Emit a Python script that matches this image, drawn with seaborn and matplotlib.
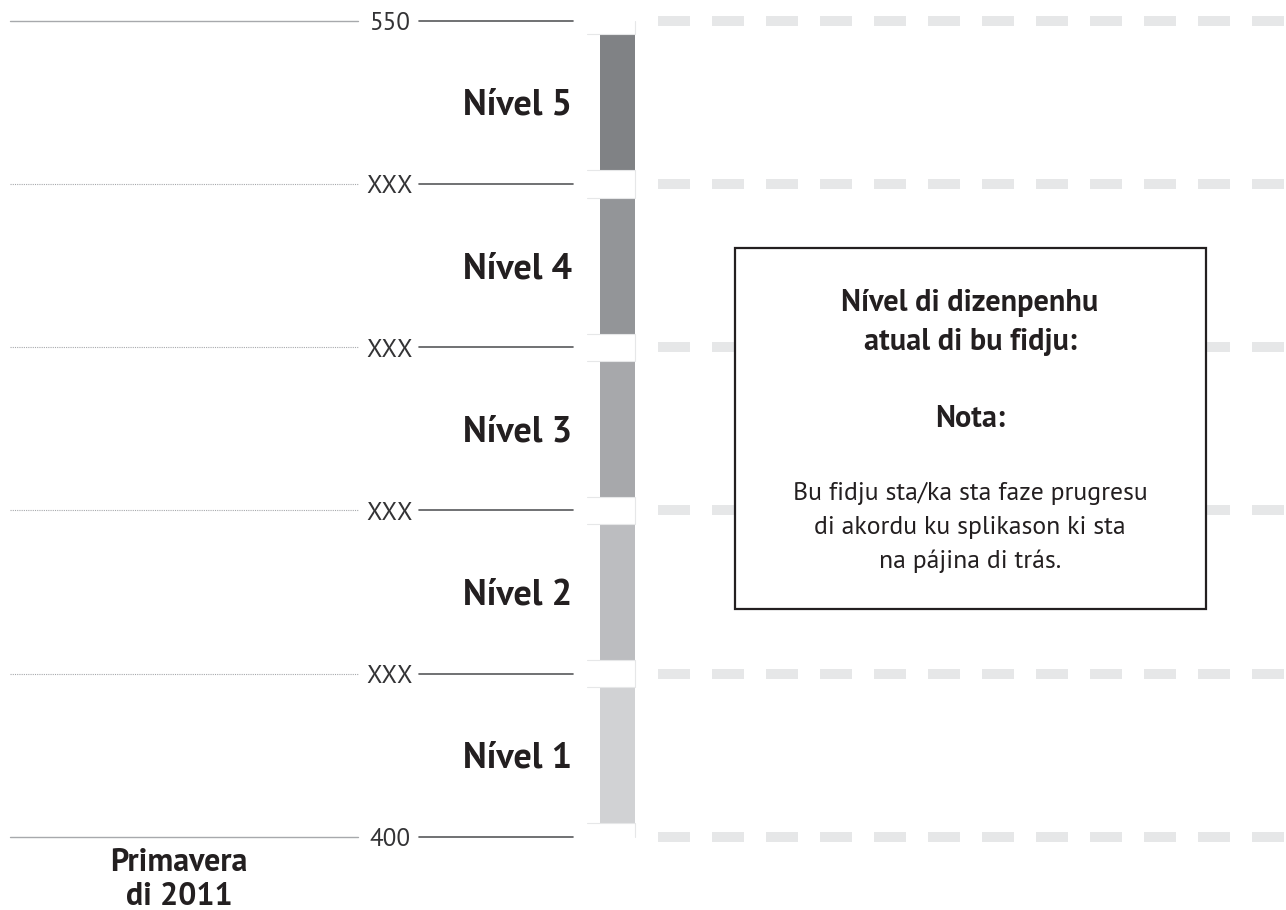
import matplotlib
matplotlib.use("Agg")
import matplotlib.pyplot as plt
import matplotlib.transforms as mtransforms
from matplotlib.patches import Rectangle
import seaborn as sns

# ---------------- data ----------------
levels = ["Nível 1", "Nível 2", "Nível 3", "Nível 4", "Nível 5"]
cut_scores = [400, 430, 460, 490, 520, 550]
tick_labels = ["400", "XXX", "XXX", "XXX", "XXX", "550"]
level_colors = ["#d1d2d4", "#bcbdc0", "#a7a8ab", "#939598", "#808285"]
season_label = "Primavera\ndi 2011"
box_title = "Nível di dizenpenhu\natual di bu fidju:"
box_note = "Nota:"
box_text = "Bu fidju sta/ka sta faze prugresu\ndi akordu ku splikason ki sta\nna pájina di trás."

# ---------------- style ----------------
sns.set_theme(style="white")
plt.rcParams['font.family'] = ['PT Sans', 'DejaVu Sans']
TXT = "#231f20"

W, H = 1286, 910
fig = plt.figure(figsize=(W / 100, H / 100), dpi=100)
fig.patch.set_facecolor("white")
y_top_px, y_bot_px = 20.7, 836.7
ax = fig.add_axes([0, (H - y_bot_px) / H, 1, (y_bot_px - y_top_px) / H])
ax.set_xlim(0, W)
ax.set_ylim(cut_scores[0], cut_scores[-1])
ax.axis("off")

def off(dy_px):
    return mtransforms.offset_copy(ax.transData, fig=fig, x=0, y=dy_px * 0.72, units="points")

gap = 2.5
lo_s, hi_s = cut_scores[0], cut_scores[-1]

# dashed light lines on the right
for v in cut_scores:
    ax.plot([658, W], [v, v], color="#e6e7e8", lw=7.2,
            linestyle=(0, (32 / 10, 22 / 10)), dash_capstyle="butt",
            solid_capstyle="butt", clip_on=False, zorder=1)

# left guide lines + right tick lines + tick labels
for i, (v, lab) in enumerate(zip(cut_scores, tick_labels)):
    if i == 0 or i == len(cut_scores) - 1:
        ax.plot([10, 358], [v, v], color="#a7a9ac", lw=1.0, clip_on=False)
    else:
        ax.plot([10, 358], [v, v], color="#a7a9ac", lw=0.8,
                linestyle=(0, (1, 1)), clip_on=False)
    ax.plot([419, 573], [v, v], color="#58595b", lw=1.2, clip_on=False)
    ax.text(390, v, lab, ha="center", va="baseline", fontsize=18,
            fontweight="normal", color="#333335", transform=off(-9.5))

# level bars with gaps
for i, lev in enumerate(levels):
    lo, hi = cut_scores[i], cut_scores[i + 1]
    ax.bar(617.3, (hi - lo) - 2 * gap, bottom=lo + gap, width=34.5,
           color=level_colors[i], edgecolor="none", zorder=2)
    mid = (lo + hi) / 2
    ax.text(572, mid, lev, ha="right", va="baseline", fontsize=26,
            fontweight="bold", color=TXT, transform=off(-12.5))

# faint notch outlines at each cut score
for v in cut_scores:
    lo_v = max(v - gap, lo_s)
    hi_v = min(v + gap, hi_s)
    for yy in (v - gap, v + gap):
        if lo_s < yy < hi_s:
            ax.plot([587, 634.5], [yy, yy], color="#e6e7e8", lw=0.8, clip_on=False, zorder=3)
    ax.plot([634.5, 634.5], [lo_v, hi_v], color="#e6e7e8", lw=0.8, clip_on=False, zorder=3)

# season label
for k, line in enumerate(season_label.split("\n")):
    fig.text(179 / W, 1 - (871 + 34 * k) / H, line, ha="center", va="baseline",
             fontsize=23, fontweight="bold", color=TXT)

# info box
box = Rectangle((735 / W, 1 - 609 / H), (1206 - 735) / W, (609 - 248) / H,
                transform=fig.transFigure, facecolor="white", edgecolor=TXT,
                lw=1.6, zorder=5)
fig.add_artist(box)
for k, line in enumerate(box_title.split("\n")):
    fig.text(970 / W, 1 - (311 + 39 * k) / H, line, ha="center", va="baseline",
             fontsize=21.8, fontweight="bold", color=TXT, zorder=6)
fig.text(970 / W, 1 - 427 / H, box_note, ha="center", va="baseline",
         fontsize=21.8, fontweight="bold", color=TXT, zorder=6)
for k, line in enumerate(box_text.split("\n")):
    fig.text(970 / W, 1 - (500 + 34 * k) / H, line, ha="center", va="baseline",
             fontsize=18.5, color=TXT, zorder=6)

fig.savefig("out.png", dpi=100, facecolor="white")
